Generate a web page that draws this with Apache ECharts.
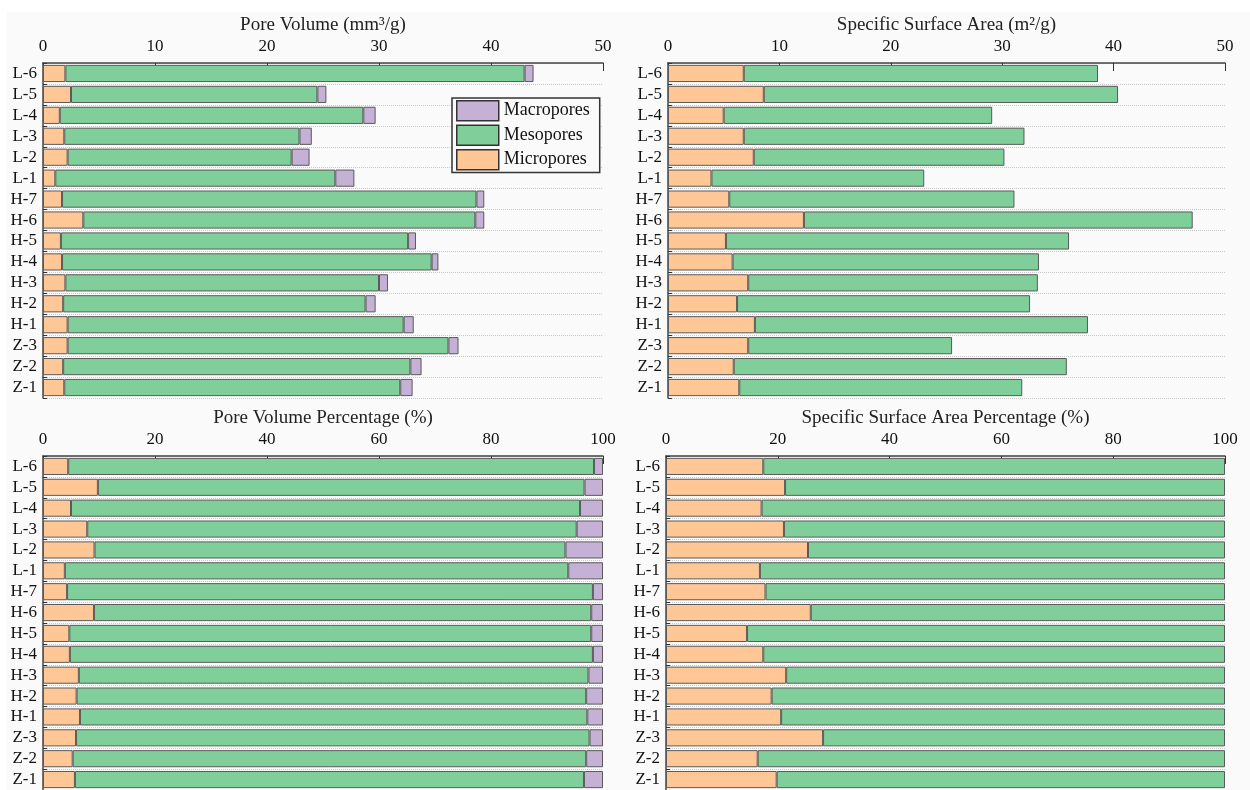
<!DOCTYPE html>
<html>
<head>
<meta charset="utf-8">
<script src="https://cdn.jsdelivr.net/npm/echarts@6/dist/echarts.min.js"></script>
<style>
  html, body { margin: 0; padding: 0; background: #fff; }
  #main { width: 1250px; height: 790px; }
</style>
</head>
<body>
<div id="main"></div>
<script>
// 样品编号（从上到下）
const categories = ['L-6', 'L-5', 'L-4', 'L-3', 'L-2', 'L-1', 'H-7', 'H-6', 'H-5', 'H-4', 'H-3', 'H-2', 'H-1', 'Z-3', 'Z-2', 'Z-1'];

// 孔体积 (mm3/g)
const pvMicro = [2.0, 2.5, 1.5, 1.9, 2.2, 1.1, 1.7, 3.6, 1.6, 1.7, 2.0, 1.8, 2.2, 2.2, 1.8, 1.9];
const pvMeso = [41.0, 22.0, 27.1, 21.0, 20.0, 25.0, 37.0, 35.0, 31.0, 33.0, 28.0, 27.0, 30.0, 34.0, 31.0, 30.0];
const pvMacro = [0.8, 0.8, 1.1, 1.1, 1.6, 1.7, 0.7, 0.8, 0.7, 0.6, 0.8, 0.9, 0.9, 0.9, 1.0, 1.1];

// 比表面积 (m2/g)
const ssaMicro = [6.8, 8.6, 5.0, 6.8, 7.7, 3.9, 5.5, 12.2, 5.2, 5.8, 7.2, 6.2, 7.8, 7.2, 5.9, 6.4];
const ssaMeso = [31.8, 31.8, 24.1, 25.2, 22.5, 19.1, 25.6, 34.9, 30.8, 27.5, 26.0, 26.3, 29.9, 18.3, 29.9, 25.4];

// 孔体积百分比 (%)
const pvPctMicro = [4.5, 9.8, 5.0, 7.9, 9.2, 3.9, 4.3, 9.1, 4.7, 4.8, 6.4, 6.0, 6.6, 5.9, 5.3, 5.7];
const pvPctMeso = [93.9, 86.9, 90.9, 87.4, 84.1, 89.9, 93.9, 88.8, 93.2, 93.4, 91.0, 91.0, 90.6, 91.7, 91.7, 90.9];
const pvPctMacro = [1.6, 3.3, 4.1, 4.7, 6.7, 6.2, 1.8, 2.1, 2.1, 1.8, 2.6, 3.0, 2.8, 2.4, 3.0, 3.4];

// 比表面积百分比 (%)
const ssaPctMicro = [17.4, 21.3, 17.1, 21.1, 25.4, 16.8, 17.8, 25.9, 14.5, 17.4, 21.5, 18.9, 20.6, 28.1, 16.4, 19.8];
const ssaPctMeso = [82.6, 78.7, 82.9, 78.9, 74.6, 83.2, 82.2, 74.1, 85.5, 82.6, 78.5, 81.1, 79.4, 71.9, 83.6, 80.2];

const panelTitles = ['Pore Volume (mm\u00b3/g)', 'Specific Surface Area (m\u00b2/g)', 'Pore Volume Percentage (%)', 'Specific Surface Area Percentage (%)'];
const axisMax = [50, 50, 100, 100];
const axisStep = [10, 10, 20, 20];

const FONT = 'Liberation Serif';
const colors = { micro: '#ffc796', meso: '#80cf9a', macro: '#c5b0d6' };

const chartDom = document.getElementById('main');
const myChart = echarts.init(chartDom);

const grids = [
  { left: 43, top: 63, width: 560, height: 335 },
  { left: 668, top: 63, width: 557, height: 335 },
  { left: 43, top: 456, width: 560, height: 334 },
  { left: 666, top: 456, width: 559, height: 334 }
];

const xAxes = grids.map((g, i) => ({
  type: 'value',
  gridIndex: i,
  position: 'top',
  min: 0,
  max: axisMax[i],
  interval: axisStep[i],
  name: panelTitles[i],
  nameLocation: 'middle',
  nameGap: 28,
  nameTextStyle: { fontFamily: FONT, fontSize: 19, color: '#222' },
  axisLine: { show: true, lineStyle: { color: '#444', width: 1.5 } },
  axisTick: { show: true, inside: true, length: 8, lineStyle: { color: '#333' } },
  axisLabel: { fontFamily: FONT, fontSize: 17, color: '#111', margin: 8 },
  splitLine: { show: false }
}));

const yAxes = grids.map((g, i) => ({
  type: 'category',
  gridIndex: i,
  data: categories,
  inverse: true,
  axisLine: { show: true, lineStyle: { color: '#444', width: 1.5 } },
  axisTick: { show: true, inside: true, length: 4, interval: 0, lineStyle: { color: '#333' } },
  axisLabel: { fontFamily: FONT, fontSize: 17, color: '#111', margin: 6, interval: 0 },
  splitLine: { show: true, interval: 0, lineStyle: { color: '#c8c8c8', type: 'dotted' } }
}));

function bar(name, data, color, idx) {
  return {
    name: name,
    type: 'bar',
    stack: 'p' + idx,
    xAxisIndex: idx,
    yAxisIndex: idx,
    data: data,
    barCategoryGap: '18%',
    itemStyle: { color: color, borderColor: '#5a5a5a', borderWidth: 1 },
    emphasis: { disabled: true }
  };
}

const option = {
  backgroundColor: '#fafafa',
  animation: false,
  graphic: [
    { type: 'rect', shape: { x: 0, y: 0, width: 1250, height: 12 }, style: { fill: '#fff' }, silent: true },
    { type: 'rect', shape: { x: 0, y: 0, width: 7, height: 790 }, style: { fill: '#fff' }, silent: true }
  ],
  legend: {
    data: ['Macropores', 'Mesopores', 'Micropores'],
    orient: 'vertical',
    left: 452,
    top: 98,
    icon: 'rect',
    itemWidth: 42,
    itemHeight: 20,
    itemGap: 3,
    padding: [2, 10, 2, 4],
    borderColor: '#333',
    borderWidth: 1.5,
    backgroundColor: '#fafafa',
    textStyle: { fontFamily: FONT, fontSize: 18, color: '#111' },
    itemStyle: { borderColor: '#333', borderWidth: 1.5 },
    selectedMode: false
  },
  grid: grids,
  xAxis: xAxes,
  yAxis: yAxes,
  series: [
    bar('Micropores', pvMicro, colors.micro, 0),
    bar('Mesopores', pvMeso, colors.meso, 0),
    bar('Macropores', pvMacro, colors.macro, 0),
    bar('Micropores', ssaMicro, colors.micro, 1),
    bar('Mesopores', ssaMeso, colors.meso, 1),
    bar('Micropores', pvPctMicro, colors.micro, 2),
    bar('Mesopores', pvPctMeso, colors.meso, 2),
    bar('Macropores', pvPctMacro, colors.macro, 2),
    bar('Micropores', ssaPctMicro, colors.micro, 3),
    bar('Mesopores', ssaPctMeso, colors.meso, 3)
  ]
};

option && myChart.setOption(option);
</script>
</body>
</html>
